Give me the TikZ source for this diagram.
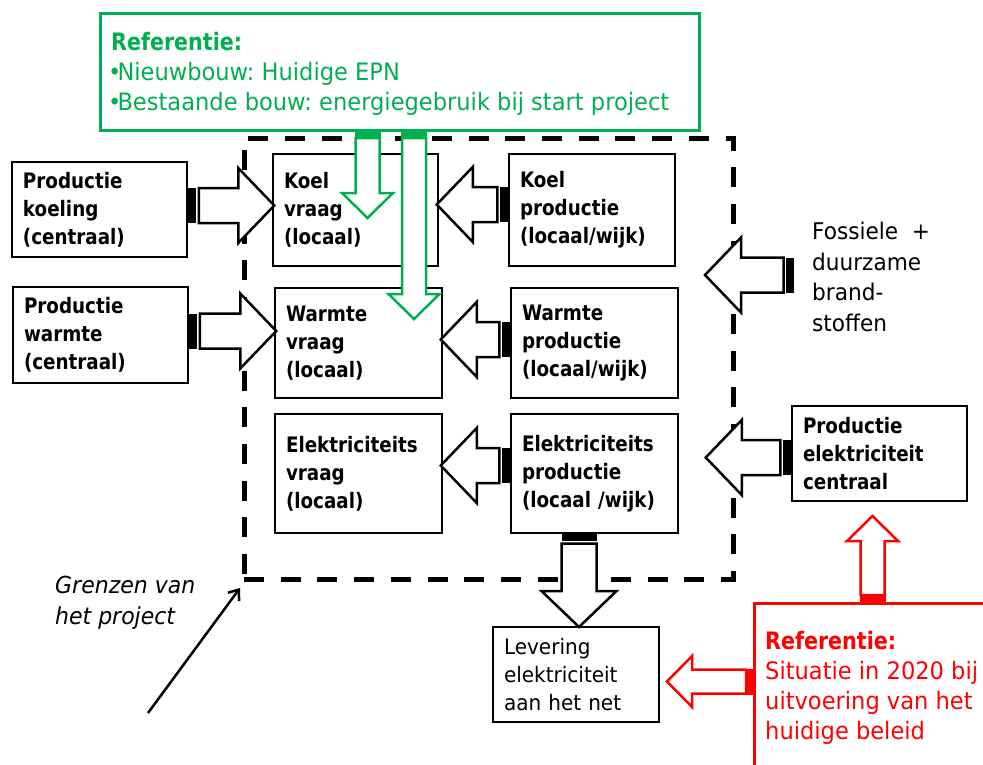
\documentclass[tikz,border=0pt]{standalone}
\usepackage{fontspec}
\setmainfont{DejaVu Sans}[FakeStretch=0.94]
\newfontfamily\boldfam{DejaVu Sans}[FakeStretch=0.86]
\usetikzlibrary{arrows.meta}
\definecolor{refgreen}{RGB}{0,176,80}
\definecolor{refred}{RGB}{255,0,0}
\newcommand{\tightbullet}{\kern-3pt•\kern-4pt}
\frenchspacing

\begin{document}
\begin{tikzpicture}[x=1pt,y=-1pt,
  box/.style={draw, line width=2.5pt, fill=white, inner xsep=11pt, inner ysep=0pt,
    align=left, font=\boldfam\bfseries\fontsize{21.3}{28}\selectfont},
  plainbox/.style={box, font=\fontsize{21.3}{28}\selectfont},
  note/.style={inner sep=0pt, anchor=north west, align=left},
  % striped block arrow along +x, length #1
  pics/blackarrow/.style={code={
    \fill[black] (0,-17.5) rectangle (8,17.5);
    \filldraw[fill=white, draw=black, line width=2.5pt]
      (10.5,-17.5) -- ({#1-36},-17.5) -- ({#1-36},-37.5) -- (#1,0)
      -- ({#1-36},37.5) -- ({#1-36},17.5) -- (10.5,17.5) -- cycle;
  }},
  % narrow outlined arrow along +x, length #1, colour #2
  pics/thinarrow/.style 2 args={code={
    \fill[#2] (0,-13) rectangle (8,13);
    \filldraw[fill=white, draw=#2, line width=2.5pt]
      (8,-12) -- ({#1-25},-12) -- ({#1-25},-25.5) -- (#1,0)
      -- ({#1-25},25.5) -- ({#1-25},12) -- (8,12) -- cycle;
  }}]
\useasboundingbox (0,0) rectangle (983,764);
\clip (0,0) rectangle (983,764);

% project boundary
\node[draw, line width=5pt, dash pattern=on 20pt off 16.7pt, minimum width=489pt,
  minimum height=441pt, inner sep=0pt] (grens) at (488.5,358.5) {};

% boxes
\node[box, minimum width=175pt, minimum height=95pt, text width=153pt] (pk) at (99.5,209.5)
  {Productie\\koeling\\(centraal)};
\node[box, minimum width=175pt, minimum height=96pt, text width=153pt] (pw) at (100.5,335)
  {Productie\\warmte\\(centraal)};
\node[box, minimum width=165pt, minimum height=112pt, text width=143pt] (kv) at (355.5,210)
  {Koel\\vraag\\(locaal)};
\node[box, minimum width=167pt, minimum height=110pt, text width=145pt] (wv) at (358.5,343)
  {Warmte\\vraag\\(locaal)};
\node[box, minimum width=167pt, minimum height=119pt, text width=145pt] (ev) at (358.5,473.5)
  {Elektriciteits\\vraag\\(locaal)};
\node[box, minimum width=166pt, minimum height=112pt, text width=144pt] (kp) at (592,210)
  {Koel\\productie\\(locaal/wijk)};
\node[box, minimum width=167pt, minimum height=110pt, text width=145pt] (wp) at (594.5,343)
  {Warmte\\productie\\(locaal/wijk)};
\node[box, minimum width=167pt, minimum height=119pt, text width=145pt] (ep) at (594.5,473.5)
  {Elektriciteits\\productie\\(locaal /wijk)};
\node[box, minimum width=175pt, minimum height=95pt, text width=153pt] (pec) at (879.5,453.5)
  {Productie\\elektriciteit\\centraal};
\node[plainbox, minimum width=166pt, minimum height=95pt, text width=144pt] (lev) at (576,674.5)
  {Levering\\elektriciteit\\aan het net};

% free text
\node[note, font=\fontsize{23}{30.5}\selectfont] (brand) at (812,222)
  {Fossiele\ \ +\\duurzame\\brand-\\stoffen};
\node[note, font=\itshape\fontsize{23.4}{31}\selectfont] (grenstekst) at (55,576)
  {Grenzen van\\het project};

% energy flows
\pic at (pk.east |- 0,205.5) {blackarrow=86};
\pic at (pw.east |- 0,331) {blackarrow=87};
\pic[rotate=180] at (kp.west |- 0,204.5) {blackarrow=71};
\pic[rotate=180] at (wp.west |- 0,339.5) {blackarrow=69};
\pic[rotate=180] at (ep.west |- 0,465.5) {blackarrow=69};
\pic[rotate=180] at (794,275) {blackarrow=89};
\pic[rotate=180] at (pec.west |- 0,457.5) {blackarrow=85};
\pic[rotate=-90] at (579,533) {blackarrow=94};

% pointer to the boundary
\coordinate (gstart) at (148,713);
\coordinate (gend) at (240,588);
\draw[line width=2.5pt, -{Straight Barb[length=9pt,width=14pt,line width=2.5pt]}] (gstart) -- (gend);

% green reference
\node[draw=refgreen, line width=3pt, fill=white, minimum width=599pt, minimum height=117pt,
  inner sep=0pt] (refnew) at (399.5,71.5) {};
\node[note, text=refgreen, font=\fontsize{24}{30}\selectfont] (refnewtext) at (111,32)
  {{\boldfam\bfseries Referentie:}\\\tightbullet Nieuwbouw: Huidige EPN\\\tightbullet Bestaande bouw: energiegebruik bij start project};
\pic[rotate=-90] at (367.5,130) {thinarrow={88}{refgreen}};
\pic[rotate=-90] at (414,130) {thinarrow={189}{refgreen}};

% red reference
\draw[refred, line width=3pt] (754,780) -- (754,603) -- (1000,603);
\node[note, text=refred, font=\fontsize{24}{30}\selectfont] (refoldtext) at (765,631)
  {{\boldfam\bfseries Referentie:}\\Situatie in 2020 bij\\uitvoering van het\\huidige beleid};
\pic[rotate=90] at (872.5,603) {thinarrow={87}{refred}};
\pic[rotate=180] at (754,681.5) {thinarrow={87}{refred}};
\end{tikzpicture}
\end{document}
